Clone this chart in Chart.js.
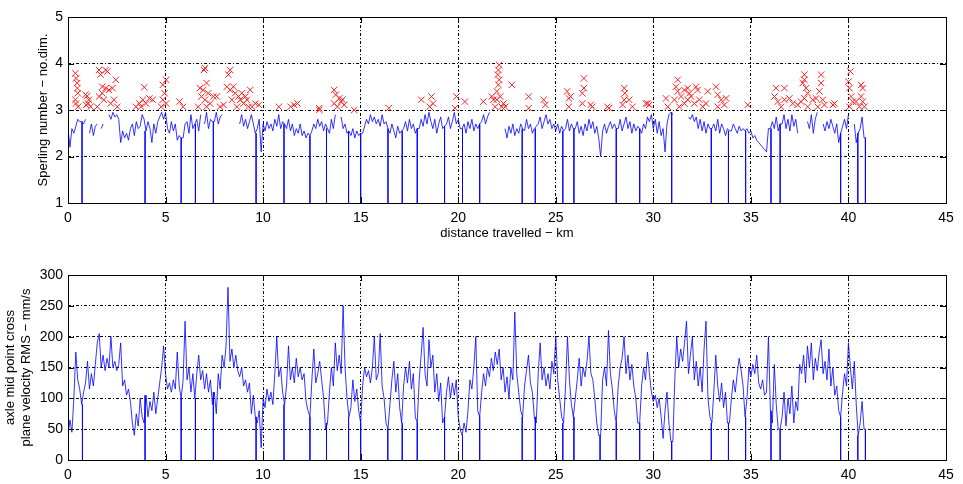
<!DOCTYPE html>
<html>
<head>
<meta charset="utf-8">
<script src="https://cdn.jsdelivr.net/npm/chart.js@4.4.0/dist/chart.umd.min.js"></script>
<style>
  html, body { margin: 0; padding: 0; background: #fff; }
  #wrap { position: relative; width: 963px; height: 484px; background: #fff; }
  canvas { position: absolute; left: 0; }
</style>
</head>
<body>
<div id="wrap">
  <canvas id="sperlingChart" width="963" height="250" style="top:0"></canvas>
  <canvas id="velocityChart" width="963" height="234" style="top:250px"></canvas>
</div>
<script>
// samples every 0.1 km, from 0 km to 40.9 km
const stepKm = 0.1;
const distTicks = [0, 5, 10, 15, 20, 25, 30, 35, 40, 45];

// Sperling number below 3 (blue trace); null where the value is above 3
const sperling = [
  2.6, 2.2, 2.6, 2.5, 2.65, 2.8, 2.75, 2.75, 2.7, 2.8,
  null, 2.5, 2.7, 2.45, 2.65, 2.7, null, 2.6, 2.7, null,
  null, 2.9, 2.8, 2.95, 2.85, 2.9, 2.8, 2.3, 2.55, 2.4,
  2.5, 2.35, 2.6, 2.7, 2.45, 2.75, 2.6, 2.65, 2.9, 2.8,
  2.55, 2.75, 2.6, 2.3, 2.7, 2.5, 2.75, 2.85, 2.95, 2.8,
  2.95, 2.6, 2.5, 2.75, 2.55, 2.7, 2.35, 2.45, 2.4, 2.4,
  2.7, 2.75, 2.5, 2.9, 2.6, 2.7, 2.8, 2.55, 2.9, null,
  2.7, 2.95, 2.6, 2.8, 2.75, 2.75, 2.95, 2.7, 2.85, 2.9,
  null, null, null, null, null, null, null, null, 2.7, 2.9,
  2.65, 2.8, 2.6, 2.75, 2.9, 2.7, 2.5, 2.6, 2.8, 2.1,
  2.7, 2.55, 2.75, 2.6, 2.7, 2.55, 2.8, 2.65, 2.9, 2.6,
  2.75, 2.7, 2.6, 2.8, 2.55, 2.7, 2.45, 2.6, 2.5, 2.7,
  2.45, 2.55, 2.4, 2.5, 2.45, 2.55, 2.7, 2.6, 2.8, 2.65,
  2.75, 2.55, 2.7, 2.6, 2.5, 2.8, 2.6, 2.9, null, null,
  2.85, 2.6, 2.7, 2.5, 2.55, 2.45, 2.6, 2.4, 2.55, 2.45,
  2.5, 2.5, 2.65, 2.8, 2.7, 2.9, 2.75, 2.85, 2.7, 2.8,
  2.65, 2.9, 2.7, 2.75, 2.6, 2.5, 2.7, 2.55, 2.4, 2.65,
  2.5, 2.55, 2.6, 2.75, 2.55, 2.8, 2.6, 2.7, 2.5, 2.6,
  2.6, 2.8, 2.65, 2.9, 2.7, 2.95, 2.75, 2.6, 2.8, 2.5,
  2.7, 2.85, 2.6, 2.65, 2.7, 2.85, 2.6, 2.75, 2.95, 2.7,
  2.8, 2.6, 2.6, 2.7, 2.5, 2.75, 2.6, 2.8, 2.55, 2.7,
  2.6, 2.7, 2.75, 2.9, 2.7, 2.85, 2.95, null, null, null,
  null, null, null, null, 2.6, 2.4, 2.65, 2.5, 2.7, 2.45,
  2.6, 2.5, 2.7, 2.6, 2.55, 2.8, 2.6, 2.7, 2.5, 2.6,
  2.65, 2.7, 2.85, 2.6, 2.75, 2.9, 2.7, 2.8, 2.6, 2.7,
  2.55, 2.7, 2.5, 2.65, 2.55, 2.6, 2.8, 2.55, 2.7, 2.6,
  2.6, 2.75, 2.5, 2.65, 2.45, 2.7, 2.55, 2.8, 2.6, 2.75,
  2.5, 2.65, 2.4, 2.0, 2.55, 2.7, 2.5, 2.65, 2.75, 2.6,
  2.7, 2.6, 2.6, 2.8, 2.55, 2.7, 2.85, 2.6, 2.75, 2.5,
  2.7, 2.55, 2.65, 2.6, 2.5, 2.7, 2.6, 2.85, 2.75, 2.9,
  2.6, 2.8, 2.5, 2.75, 2.45, 2.6, 2.1, 2.7, 2.9, 2.95,
  2.9, null, null, null, 2.8, null, null, null, 2.85, 2.8,
  2.9, 2.75, 2.85, 2.6, 2.8, 2.55, 2.75, 2.5, 2.7, 2.6,
  2.6, 2.7, 2.55, 2.8, 2.5, 2.7, 2.6, 2.45, 2.6, 2.55,
  2.55, 2.7, 2.6, 2.5, 2.65, 2.55, 2.6, 2.55, 2.6, 2.5,
  2.55, 2.4, 2.45, 2.35, 2.3, 2.25, 2.2, 2.15, 2.1, 2.6,
  2.6, 2.75, 2.6, 2.85, 2.55, 2.7, 2.7, 2.9, 2.6, 2.8,
  2.55, 2.9, 2.65, 2.8, 2.5, null, null, null, null, 2.75,
  2.6, 2.9, 2.5, 2.8, 2.95, null, null, 2.7, 2.55, 2.75,
  2.6, 2.8, 2.65, 2.5, 2.7, 2.3, 2.5, 2.65, 2.8, 2.6,
  2.9, null, null, 2.7, 2.3, 2.5, 2.6, 2.85, 2.4, 2.4
];

// Sperling number above 3 (red crosses)
const exceedDist = [
  0.38, 0.41, 0.47, 0.48, 0.50, 0.38, 0.41, 0.52, 0.90, 0.98, 1.07, 0.93, 1.16, 1.03,
  1.59, 1.67, 1.93, 2.02, 1.76, 1.93, 2.10, 2.28, 2.45, 1.59, 1.84, 2.19, 2.53, 1.50, 2.36, 1.76,
  3.91, 3.48, 3.66, 3.83, 4.00, 4.17, 4.34, 3.74, 4.86, 5.03, 4.95, 4.86, 5.03, 4.78, 5.72, 5.90,
  6.97, 7.02, 6.76, 6.93, 7.10, 7.19, 6.84, 7.02, 6.67, 7.10, 7.28, 7.45, 7.62, 7.79, 7.97,
  8.31, 8.22, 8.14, 8.31, 8.48, 8.57, 8.74, 8.83, 9.00, 9.17, 9.34, 9.43, 8.66, 8.40, 8.91, 9.26,
  9.60, 9.78, 9.09, 10.81, 11.41, 11.59, 11.76, 12.88,
  12.87, 13.64, 13.73, 13.90, 14.07, 13.64, 13.81, 13.99, 14.16, 14.67, 16.44,
  18.11, 18.63, 18.71, 18.54, 19.91, 19.83, 20.34, 21.29, 21.72, 21.80, 21.89,
  22.10, 22.06, 22.03, 22.10, 22.06, 21.98, 22.15, 22.32, 22.23, 22.41, 21.98, 22.75,
  23.61, 23.61, 24.38, 24.47, 25.58, 25.67, 25.76, 25.67, 26.44, 26.44, 26.36, 26.36, 26.79, 26.87,
  27.65, 27.73, 28.51, 28.54, 28.51, 28.76, 28.93, 28.42, 29.62, 29.79,
  29.71, 30.65, 30.74, 31.25, 31.16, 31.25, 31.59, 31.76, 32.19, 32.27, 31.08, 31.42, 31.76, 31.93,
  32.10, 32.36, 32.53, 32.79, 33.21, 33.30, 33.47, 33.73, 33.64, 33.30, 32.70, 31.59, 31.33, 31.85,
  34.84, 36.29, 36.72, 36.21, 36.38, 36.72, 36.97, 37.15, 37.40, 36.55,
  37.74, 37.74, 37.66, 37.83, 37.91, 37.74, 37.57, 37.91, 38.17, 38.34, 38.60, 38.60, 38.51, 38.68, 38.77, 38.43,
  39.20, 39.28, 40.10, 40.00, 40.05, 40.14, 40.22, 40.05, 40.39, 40.65, 40.73, 40.65, 40.73, 40.82, 40.56
];
const exceedSperling = [
  3.79, 3.68, 3.58, 3.47, 3.36, 3.22, 3.14, 3.07, 3.33, 3.30, 3.22, 3.11, 3.07, 3.14,
  3.86, 3.76, 3.86, 3.83, 3.50, 3.47, 3.43, 3.47, 3.65, 3.29, 3.22, 3.14, 3.07, 3.07, 3.22, 3.36,
  3.49, 3.07, 3.14, 3.22, 3.14, 3.25, 3.22, 3.07, 3.54, 3.65, 3.36, 3.22, 3.14, 3.07, 3.18, 3.07,
  3.86, 3.90, 3.47, 3.43, 3.58, 3.36, 3.29, 3.22, 3.07, 3.07, 3.14, 3.29, 3.29, 3.07, 3.11,
  3.86, 3.76, 3.50, 3.43, 3.50, 3.36, 3.29, 3.22, 3.14, 3.22, 3.43, 3.07, 3.07, 3.22, 3.36, 3.07,
  3.14, 3.11, 3.29, 3.07, 3.07, 3.11, 3.14, 3.00,
  3.04, 3.43, 3.33, 3.25, 3.22, 3.14, 3.07, 3.18, 3.11, 3.00, 3.04,
  3.22, 3.29, 3.14, 3.07, 3.29, 3.04, 3.18, 3.18, 3.29, 3.22, 3.07,
  3.97, 3.86, 3.76, 3.65, 3.54, 3.40, 3.29, 3.14, 3.07, 3.07, 3.22, 3.54,
  3.29, 3.04, 3.22, 3.11, 3.40, 3.25, 3.29, 3.07, 3.68, 3.47, 3.36, 3.14, 3.11, 3.07,
  3.07, 3.04, 3.47, 3.36, 3.22, 3.22, 3.07, 3.11, 3.14, 3.11,
  3.14, 3.25, 3.07, 3.65, 3.50, 3.40, 3.43, 3.47, 3.50, 3.43, 3.22, 3.29, 3.22, 3.29,
  3.14, 3.22, 3.07, 3.40, 3.50, 3.33, 3.22, 3.25, 3.11, 3.07, 3.14, 3.14, 3.07, 3.36,
  3.11, 3.47, 3.47, 3.29, 3.18, 3.22, 3.25, 3.14, 3.11, 3.07,
  3.76, 3.65, 3.58, 3.47, 3.36, 3.25, 3.18, 3.07, 3.22, 3.25, 3.76, 3.58, 3.40, 3.22, 3.11, 3.07,
  3.11, 3.14, 3.83, 3.61, 3.47, 3.29, 3.18, 3.07, 3.18, 3.54, 3.47, 3.29, 3.18, 3.07, 3.07
];

// axle mid point cross plane velocity RMS, mm/s
const velocityRms = [
  40, 65, 45, 100, 175, 130, 115, 90, 110, 125,
  160, 115, 140, 120, 155, 190, 205, 150, 170, 145,
  165, 150, 200, 150, 160, 145, 155, 190, 120, 130,
  105, 115, 95, 60, 40, 75, 55, 100, 70, 60,
  105, 70, 95, 80, 110, 75, 100, 125, 150, 185,
  140, 115, 125, 110, 130, 115, 175, 120, 100, 130,
  225, 130, 150, 110, 140, 100, 140, 170, 130, 145,
  115, 140, 110, 130, 90, 110, 75, 140, 115, 170,
  150, 185, 280, 160, 180, 150, 170, 145, 135, 150,
  120, 130, 110, 125, 75, 105, 70, 60, 80, 20,
  100, 85, 115, 95, 110, 90, 140, 200, 135, 150,
  110, 90, 120, 185, 130, 150, 125, 165, 135, 150,
  130, 140, 95, 80, 70, 130, 180, 125, 140, 160,
  130, 100, 50, 60, 110, 150, 120, 190, 145, 170,
  140, 250, 150, 100, 70, 85, 130, 95, 115, 80,
  60, 120, 150, 135, 145, 125, 150, 200, 130, 140,
  205, 120, 100, 60, 50, 90, 130, 160, 110, 140,
  85, 60, 120, 150, 125, 160, 115, 140, 70, 60,
  130, 170, 215, 140, 120, 195, 150, 170, 110, 140,
  95, 125, 60, 70, 110, 135, 100, 125, 105, 130,
  70, 50, 40, 60, 45, 80, 130, 115, 150, 200,
  80, 70, 110, 140, 120, 150, 135, 165, 145, 175,
  155, 180, 130, 150, 110, 135, 100, 150, 130, 240,
  140, 110, 80, 70, 120, 145, 170, 125, 110, 70,
  60, 140, 190, 130, 150, 120, 140, 115, 160, 140,
  200, 130, 100, 70, 60, 120, 200, 130, 90, 70,
  100, 130, 165, 120, 150, 135, 160, 200, 140, 130,
  100, 60, 40, 40, 130, 150, 120, 210, 140, 115,
  80, 60, 120, 150, 165, 200, 140, 170, 130, 155,
  120, 100, 60, 60, 120, 150, 130, 175, 140, 110,
  95, 105, 85, 100, 70, 35, 80, 110, 60, 30,
  30, 130, 200, 150, 180, 160, 190, 225, 140, 170,
  200, 130, 160, 120, 150, 110, 180, 225, 100, 70,
  60, 110, 170, 120, 95, 125, 85, 110, 60, 60,
  100, 130, 110, 140, 165, 145, 120, 70, 100, 150,
  135, 155, 140, 170, 125, 115, 130, 105, 110, 200,
  80, 60, 155, 90, 50, 50, 70, 110, 55, 100,
  75, 120, 60, 95, 80, 155, 140, 170, 125, 185,
  150, 190, 130, 165, 145, 175, 195, 140, 160, 130,
  180, 120, 150, 105, 120, 80, 70, 110, 140, 120,
  190, 150, 115, 160, 90, 40, 60, 95, 50, 50
];

// sharp drops of both signals (km); each is drawn as a thin line down to the axis
const sperlingDropDist = [
  0.72, 3.95, 5.80, 6.53, 7.45, 9.64, 11.07, 12.40, 13.25, 14.38, 15.00, 16.40, 17.13, 17.90,
  19.30, 20.22, 21.10, 23.28, 23.95, 25.36, 25.93, 28.10, 29.30, 30.94, 32.97, 33.85, 34.73,
  36.03, 36.50, 39.60, 40.48, 40.87
];
const velocityDropDist = [
  0.74, 3.95, 5.80, 6.53, 7.45, 9.64, 11.07, 12.40, 13.25, 14.38, 15.00, 16.39, 17.13, 17.90,
  19.30, 20.22, 21.10, 23.28, 23.95, 25.36, 25.93, 27.27, 28.10, 29.30, 30.94, 32.97, 33.85,
  34.73, 36.03, 36.50, 39.60, 40.48, 40.87
];

Chart.defaults.font.family = '"Liberation Sans", Arial, Helvetica, sans-serif';
Chart.defaults.color = '#000';

const toXY = (values) => values.map((v, i) => ({ x: i * stepKm, y: v }));

// vertical drop segments, from the trace at that distance down to the floor value
function dropSegments(dists, values, floor) {
  const pts = [];
  dists.forEach(d => {
    const v = values[Math.min(values.length - 1, Math.round(d / stepKm))];
    pts.push({ x: d, y: v }, { x: d, y: floor }, { x: d, y: null });
  });
  return pts;
}

// MATLAB style box round the axes, with tick marks pointing inwards
const axesBox = {
  id: 'axesBox',
  afterDraw(chart) {
    const { ctx, chartArea: a, scales } = chart;
    const len = 6;
    ctx.save();
    ctx.strokeStyle = '#000';
    ctx.lineWidth = 1;
    ctx.strokeRect(Math.round(a.left) + 0.5, Math.round(a.top) + 0.5,
      Math.round(a.right - a.left), Math.round(a.bottom - a.top));
    ctx.beginPath();
    scales.x.ticks.forEach(t => {
      const px = Math.round(scales.x.getPixelForValue(t.value)) + 0.5;
      ctx.moveTo(px, a.bottom); ctx.lineTo(px, a.bottom - len);
      ctx.moveTo(px, a.top); ctx.lineTo(px, a.top + len);
    });
    scales.y.ticks.forEach(t => {
      const py = Math.round(scales.y.getPixelForValue(t.value)) + 0.5;
      ctx.moveTo(a.left, py); ctx.lineTo(a.left + len, py);
      ctx.moveTo(a.right, py); ctx.lineTo(a.right - len, py);
    });
    ctx.stroke();
    ctx.restore();
  }
};

function axisX(height, title) {
  return {
    type: 'linear',
    min: 0,
    max: 45,
    afterBuildTicks: s => { s.ticks = distTicks.map(v => ({ value: v })); },
    afterFit: s => { s.height = height; },
    grid: { color: '#000', lineWidth: 1, drawTicks: false },
    border: { display: false, dash: [3, 2, 1, 2] },
    ticks: { font: { size: 14 }, padding: 7, maxRotation: 0, autoSkip: false },
    title: title
      ? { display: true, text: title, font: { size: 13 }, padding: { top: 0, bottom: 9 } }
      : { display: false }
  };
}

function axisY(min, max, step, title, titlePad) {
  return {
    min: min,
    max: max,
    afterFit: s => { s.width = 68; },
    grid: { color: '#000', lineWidth: 1, drawTicks: false },
    border: { display: false, dash: [3, 2, 1, 2] },
    ticks: { stepSize: step, font: { size: 14 }, padding: 5, autoSkip: false },
    title: { display: true, text: title, font: { size: 13, lineHeight: 1.3 }, padding: { top: titlePad, bottom: 0 } }
  };
}

const common = {
  responsive: false,
  animation: false,
  events: [],
  plugins: { legend: { display: false }, tooltip: { enabled: false } }
};

const traceStyle = {
  showLine: true,
  spanGaps: false,
  borderColor: '#0000ff',
  borderWidth: 0.8,
  pointRadius: 0,
  tension: 0
};

new Chart(document.getElementById('sperlingChart'), {
  type: 'scatter',
  data: {
    datasets: [
      { ...traceStyle, data: toXY(sperling) },
      { ...traceStyle, data: dropSegments(sperlingDropDist, sperling, 1) },
      {
        data: exceedDist.map((d, i) => ({ x: d, y: exceedSperling[i] })),
        showLine: false,
        pointStyle: 'crossRot',
        pointRadius: 4.5,
        borderColor: '#ff2020',
        borderWidth: 1
      }
    ]
  },
  options: {
    ...common,
    layout: { padding: { left: 0, right: 17, top: 17, bottom: 0 } },
    scales: {
      x: axisX(47, 'distance travelled \u2212 km'),
      y: axisY(1, 5, 1, 'Sperling number \u2212 no.dim.', 35)
    }
  },
  plugins: [axesBox]
});

new Chart(document.getElementById('velocityChart'), {
  type: 'scatter',
  data: {
    datasets: [
      { ...traceStyle, data: toXY(velocityRms) },
      { ...traceStyle, data: dropSegments(velocityDropDist, velocityRms, 0) }
    ]
  },
  options: {
    ...common,
    layout: { padding: { left: 0, right: 17, top: 25, bottom: 0 } },
    scales: {
      x: axisX(24, null),
      y: axisY(0, 300, 50, ['axle mid point cross', 'plane velocity RMS \u2212 mm/s'], 1.5)
    }
  },
  plugins: [axesBox]
});
</script>
</body>
</html>
